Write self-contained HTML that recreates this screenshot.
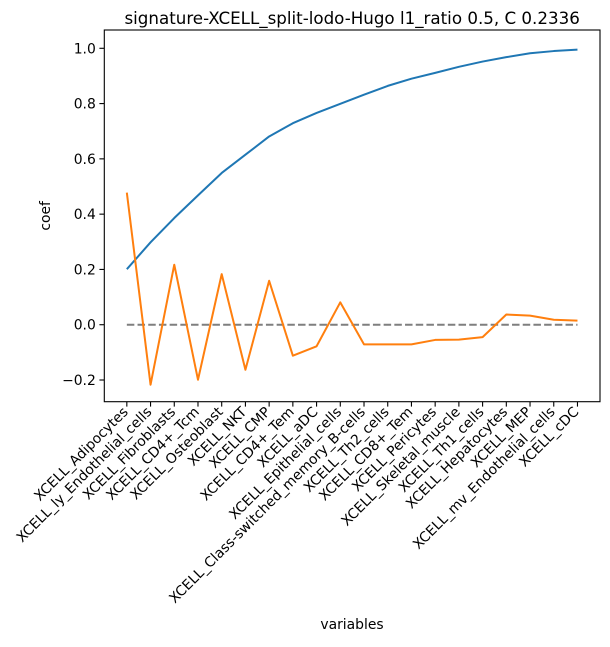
<!DOCTYPE html>
<html><head><meta charset="utf-8"><style>
body{margin:0;background:#fff;font-family:"Liberation Sans","DejaVu Sans",sans-serif}
svg text{font-family:"DejaVu Sans","Liberation Sans",sans-serif}
</style></head><body>
<svg id="chart" width="610" height="642" xmlns="http://www.w3.org/2000/svg"></svg>
<script>
const categories=["XCELL_Adipocytes","XCELL_ly_Endothelial_cells","XCELL_Fibroblasts","XCELL_CD4+_Tcm","XCELL_Osteoblast","XCELL_NKT","XCELL_CMP","XCELL_CD4+_Tem","XCELL_aDC","XCELL_Epithelial_cells","XCELL_Class-switched_memory_B-cells","XCELL_Th2_cells","XCELL_CD8+_Tem","XCELL_Pericytes","XCELL_Skeletal_muscle","XCELL_Th1_cells","XCELL_Hepatocytes","XCELL_MEP","XCELL_mv_Endothelial_cells","XCELL_cDC"];
const cumulative=[0.201,0.298,0.386,0.468,0.549,0.615,0.681,0.729,0.766,0.799,0.832,0.864,0.89,0.911,0.933,0.952,0.968,0.982,0.99,0.995];
const coefs=[0.478,-0.217,0.217,-0.199,0.183,-0.163,0.159,-0.112,-0.078,0.081,-0.071,-0.071,-0.071,-0.055,-0.054,-0.045,0.037,0.033,0.018,0.015];
const yTicks=[-0.2,0.0,0.2,0.4,0.6,0.8,1.0];
const yTickLabels=["−0.2","0.0","0.2","0.4","0.6","0.8","1.0"];
const L=104.3,R=600,T=30,B=401.7;
const n=categories.length;
const xmin=-0.95,xmax=n-1+0.95;
const ymin=-0.2-(401.7-380)/276.5, ymax=1.0+(48.3-30)/276.5;
const X=i=>L+(i-xmin)/(xmax-xmin)*(R-L);
const Y=v=>B-(v-ymin)/(ymax-ymin)*(B-T);
const svg=document.getElementById('chart');
const NS="http://www.w3.org/2000/svg";
function mk(t,a,p){const e=document.createElementNS(NS,t);for(const k in a)e.setAttribute(k,a[k]);(p||svg).appendChild(e);return e;}
let z=mk('line',{x1:X(0),x2:X(n-1),y1:Y(0),y2:Y(0),stroke:'#7f7f7f','stroke-width':2,'stroke-dasharray':'7.5,3.2'});


function line(vals,col,name){const p=mk('polyline',{points:vals.map((v,i)=>X(i)+','+Y(v)).join(' '),fill:'none',stroke:col,'stroke-width':2,'stroke-linejoin':'round'});

}
line(cumulative,'#1f77b4','cumulative-line');
line(coefs,'#ff7f0e','coef-line');
let fr=mk('rect',{x:L,y:T,width:R-L,height:B-T,fill:'none',stroke:'#000','stroke-width':1.1});


yTicks.forEach((v,i)=>{const y=Y(v);mk('line',{x1:L-4.9,x2:L,y1:y,y2:y,stroke:'#000','stroke-width':1.1});
const t=mk('text',{x:L-8.5,y:y+5,'text-anchor':'end','font-size':13.9});t.textContent=yTickLabels[i];

});
categories.forEach((c,i)=>{const x=X(i);mk('line',{x1:x,x2:x,y1:B,y2:B+4.9,stroke:'#000','stroke-width':1.1});
const t=mk('text',{x:x+2,y:B+11,'text-anchor':'end','font-size':13.9,transform:`rotate(-45 ${x+2} ${B+11})`});t.textContent=c;

});
let ti=mk('text',{x:(L+R)/2,y:24,'text-anchor':'middle','font-size':16.7});ti.textContent="signature-XCELL_split-lodo-Hugo l1_ratio 0.5, C 0.2336";


let yl=mk('text',{x:50,y:(T+B)/2,'text-anchor':'middle','font-size':13.9,transform:`rotate(-90 50 ${(T+B)/2})`});yl.textContent="coef";


let xl=mk('text',{x:352,y:629,'text-anchor':'middle','font-size':13.9});xl.textContent="variables";


</script>
</body></html>
